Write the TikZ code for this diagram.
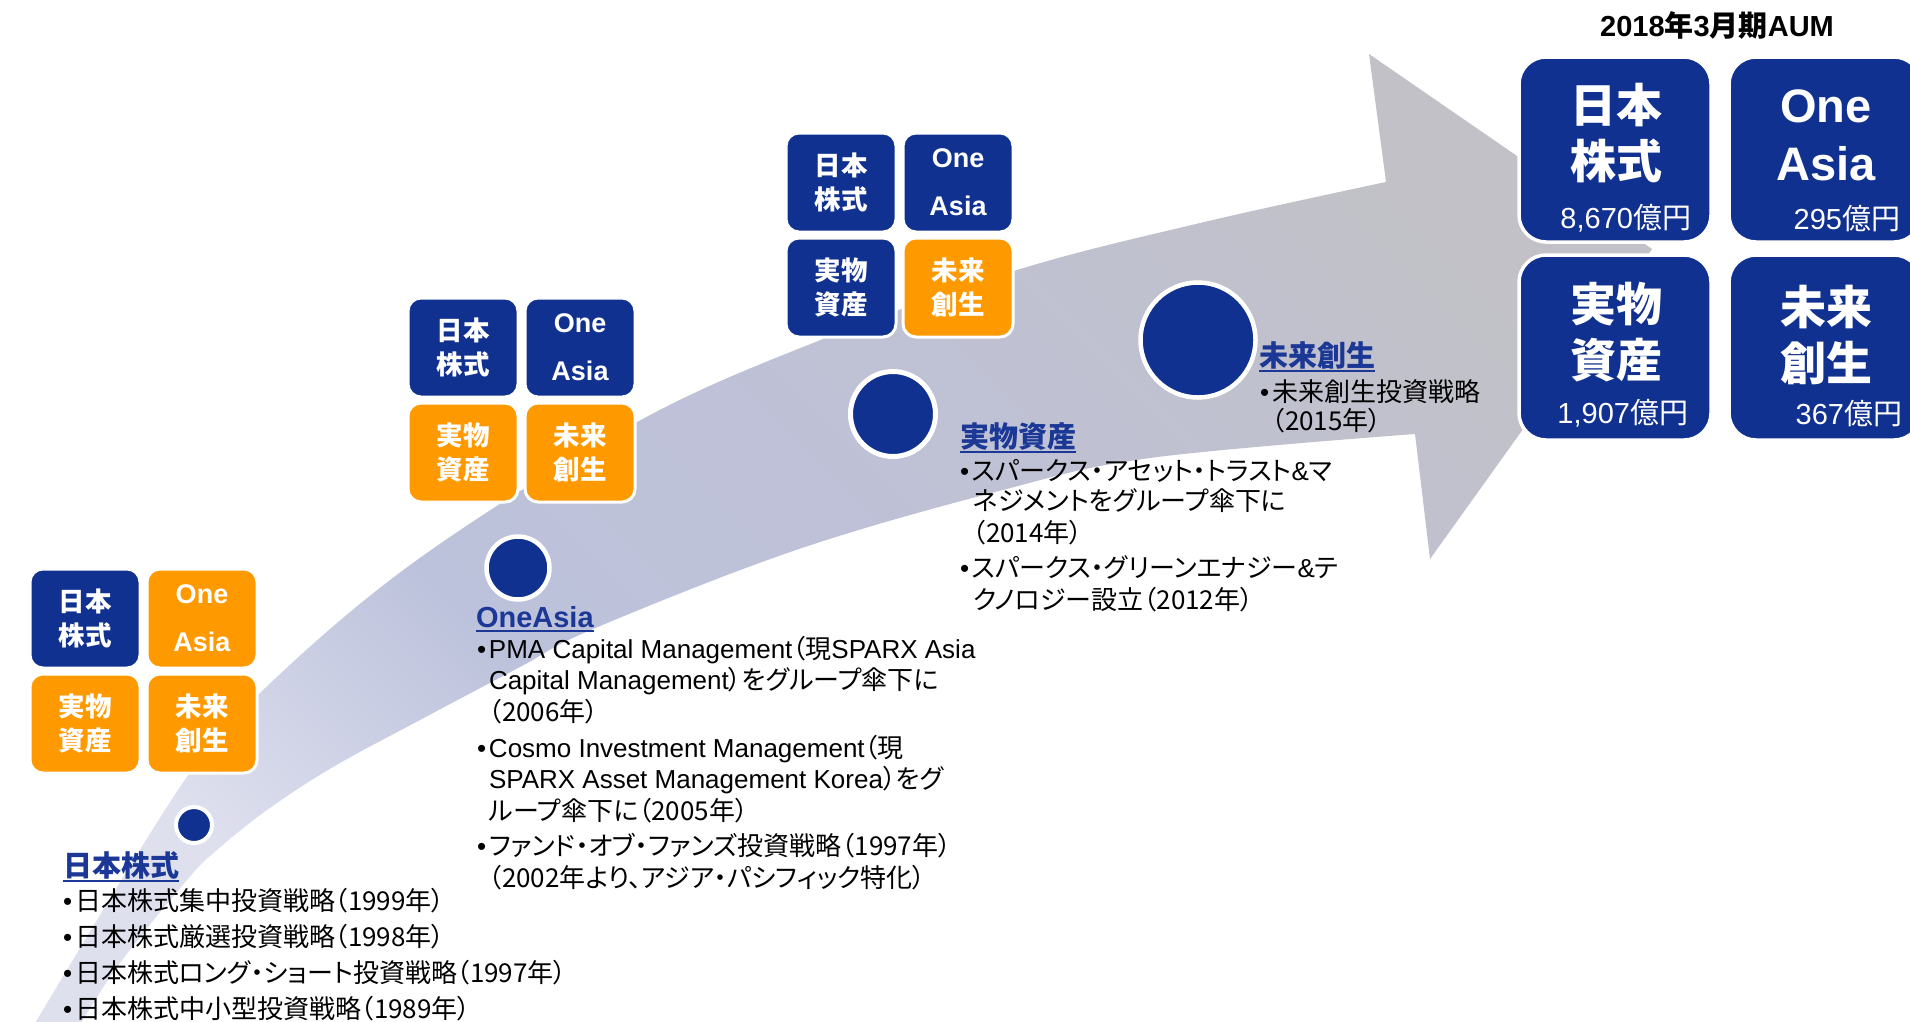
\documentclass[tikz,border=0pt]{standalone}
\usepackage{fontspec}
\setmainfont{Liberation Sans}
\newfontfamily\jp{Noto Sans CJK JP}[RawFeature=+palt]
\usetikzlibrary{calc}
\definecolor{navy}{RGB}{16,49,143}
\definecolor{headc}{RGB}{28,56,150}
\definecolor{orng}{RGB}{255,153,0}
\definecolor{lavlight}{RGB}{222,224,238}
\definecolor{lav}{RGB}{189,194,220}
\definecolor{lavgray}{RGB}{191,193,212}
\definecolor{bandgray}{RGB}{193,193,199}
\pgfdeclarehorizontalshading{bandshade}{100bp}{color(0bp)=(lavlight); color(25bp)=(lavlight); color(38bp)=(lav); color(58bp)=(lavgray); color(75bp)=(bandgray); color(100bp)=(bandgray)}
\newsavebox\ulbox
\newcommand\ulc[2][-6pt]{\sbox\ulbox{#2}\rlap{\rule[#1]{\wd\ulbox}{2pt}}\usebox\ulbox}
\newcommand\bl{\makebox[12pt][l]{•}}
\tikzset{
  sbox/.style={draw=white, line width=3pt, rounded corners=13pt, minimum width=110pt, minimum height=99pt, anchor=north west, text=white, align=center},
  bbox/.style={draw=white, line width=3.5pt, rounded corners=27pt, minimum width=192pt, minimum height=185pt, anchor=north west, fill=navy},
  jpsmall/.style={font=\jp\bfseries\fontsize{26.5}{34}\selectfont},
  ensmall/.style={font=\bfseries\fontsize{27}{48}\selectfont},
  biglabel/.style={text=white, align=center},
  bignum/.style={text=white, anchor=east, font=\fontsize{29}{34}\selectfont},
  dot/.style={circle, fill=navy, draw=white},
  body/.style={anchor=base west, font=\fontsize{26}{31}\selectfont},
  head/.style={anchor=base west, text=headc, font=\bfseries\fontsize{29}{34}\selectfont}
}
\begin{document}
\begin{tikzpicture}[x=1pt, y=-1pt, every node/.style={inner sep=0pt, outer sep=0pt}]
\useasboundingbox (0,0) rectangle (1910,1021);
\clip (0,0) rectangle (1910,1021);
\fill[white] (0,0) rectangle (1910,1021);

% curved arrow band
\shade[shading=bandshade, shading angle=45]
  plot[smooth, tension=0.6] coordinates {(25,1040) (180,787) (260,693) (417,560) (637,422) (823,339) (1017,270) (1200,223) (1386,182)}
  -- (1369,54) -- (1652,249) -- (1430,559) -- (1415,434)
  -- plot[smooth, tension=0.6] coordinates {(1415,434) (1150,458) (999,491) (796,550) (593,629) (520,667) (420,720) (333,767) (267,810) (217,850) (187,880) (117,967) (71,1040)}
  -- cycle;

% group 1
\node[sbox, fill=navy, jpsmall] (g1a) at (30,569) {日本\\株式};
\node[sbox, fill=orng, ensmall] (g1b) at (147,569) {One\\Asia};
\node[sbox, fill=orng, jpsmall] (g1c) at (30,674) {実物\\資産};
\node[sbox, fill=orng, jpsmall] (g1d) at (147,674) {未来\\創生};
% group 2
\node[sbox, fill=navy, jpsmall] (g2a) at (408,298) {日本\\株式};
\node[sbox, fill=navy, ensmall] (g2b) at (525,298) {One\\Asia};
\node[sbox, fill=orng, jpsmall] (g2c) at (408,403) {実物\\資産};
\node[sbox, fill=orng, jpsmall] (g2d) at (525,403) {未来\\創生};
% group 3
\node[sbox, fill=navy, jpsmall] (g3a) at (786,133) {日本\\株式};
\node[sbox, fill=navy, ensmall] (g3b) at (903,133) {One\\Asia};
\node[sbox, fill=navy, jpsmall] (g3c) at (786,238) {実物\\資産};
\node[sbox, fill=orng, jpsmall] (g3d) at (903,238) {未来\\創生};

% big boxes
\node[bbox] (B1) at (1519,57) {};
\node[bbox] (B2) at (1729,57) {};
\node[bbox] (B3) at (1519,255) {};
\node[bbox] (B4) at (1729,255) {};
\node[biglabel, font=\jp\bfseries\fontsize{46}{56}\selectfont] (L1) at ($(B1.center)+(1,-16)$) {日本\\株式};
\node[biglabel, font=\bfseries\fontsize{47}{58}\selectfont] (L2) at ($(B2.center)+(1,-14)$) {One\\Asia};
\node[biglabel, font=\jp\bfseries\fontsize{46}{56}\selectfont] (L3) at ($(B3.center)+(1,-15)$) {実物\\資産};
\node[biglabel, font=\jp\bfseries\fontsize{46}{56}\selectfont] (L4) at ($(B4.center)+(1,-13)$) {未来\\創生};
\node[bignum] (N1) at ($(B1.east)+(-20,69)$) {8,670{\jp 億円}};
\node[bignum] (N2) at ($(B2.east)+(-21,69)$) {295{\jp 億円}};
\node[bignum] (N3) at ($(B3.east)+(-23,66)$) {1,907{\jp 億円}};
\node[bignum] (N4) at ($(B4.east)+(-19,66)$) {367{\jp 億円}};
\node[font=\bfseries\fontsize{29}{34}\selectfont] (title) at (1717,25) {2018{\jp\bfseries 年}3{\jp\bfseries 月期}AUM};

% milestone dots
\node[dot, line width=4pt, minimum size=36pt] (c1) at (194,825) {};
\node[dot, line width=4.5pt, minimum size=63pt] (c2) at (518,568) {};
\node[dot, line width=5pt, minimum size=85pt] (c3) at (893,414) {};
\node[dot, line width=4.5pt, minimum size=115pt] (c4) at (1198,340) {};

% block 1
\node[head] (h1) at (63,876) {\ulc{\jp\bfseries 日本株式}};
\node[body] (b1a) at (63,910) {\bl{\jp 日本株式集中投資戦略（1999年）}};
\node[body] (b1b) at (63,946) {\bl{\jp 日本株式厳選投資戦略（1998年）}};
\node[body] (b1c) at (63,982) {\bl{\jp 日本株式ロング・ショート投資戦略（1997年）}};
\node[body] (b1d) at (63,1018) {\bl{\jp 日本株式中小型投資戦略（1989年）}};

% block 2
\node[head] (h2) at (476,627) {\ulc[-4.5pt]{OneAsia}};
\node[body] (b2a) at (477,658) {\bl PMA Capital Management{\jp （現}SPARX Asia};
\node[body] (b2b) at (489,689) {Capital Management{\jp ）をグループ傘下に}};
\node[body] (b2c) at (489,721) {\jp （2006年）};
\node[body] (b2d) at (477,757) {\bl Cosmo Investment Management{\jp （現}};
\node[body] (b2e) at (489,788) {SPARX Asset Management Korea{\jp ）をグ}};
\node[body] (b2f) at (489,820) {\jp ループ傘下に（2005年）};
\node[body] (b2g) at (477,855) {\bl{\jp ファンド・オブ・ファンズ投資戦略（1997年）}};
\node[body] (b2h) at (489,887) {\jp （2002年より、アジア・パシフィック特化）};

% block 3
\node[head] (h3) at (960,447) {\ulc{\jp\bfseries 実物資産}};
\node[body] (b3a) at (960,480) {\bl{\jp スパークス・アセット・トラスト}\&{\jp マ}};
\node[body] (b3b) at (973,510) {\jp ネジメントをグループ傘下に};
\node[body] (b3c) at (973,542) {\jp （2014年）};
\node[body] (b3d) at (960,577) {\bl{\jp スパークス・グリーンエナジー}\&{\jp テ}};
\node[body] (b3e) at (973,609) {\jp クノロジー設立（2012年）};

% block 4
\node[head] (h4) at (1259,366) {\ulc{\jp\bfseries 未来創生}};
\node[body] (b4a) at (1260,401) {\bl{\jp 未来創生投資戦略}};
\node[body] (b4b) at (1272,430) {\jp （2015年）};
\end{tikzpicture}
\end{document}
